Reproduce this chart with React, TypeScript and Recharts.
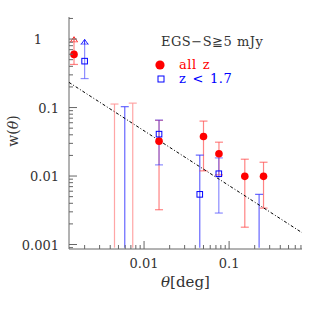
import React from 'react';
import { ScatterChart, Scatter, XAxis, YAxis, ErrorBar, Label } from 'recharts';

// all z
const thetaAll = [0.0015, 0.015, 0.05, 0.076, 0.153, 0.254];
const wAll = [0.597, 0.0323, 0.0378, 0.0211, 0.0099, 0.0099];
const wAllHi = [0.913, 0.065, 0.0634, 0.0312, 0.0176, 0.0159];
const wAllLo = [0.426, 0.00322, 0.0119, 0.0104, 0.00179, 0.0034];

// all z bins where w < 0: only the top of the bar is in the plot
const thetaAllNeg = [0.00449, 0.00736];
const wAllNegHi = [0.1125, 0.116];

// z < 1.7 (lo = 0 means the bar runs off the bottom)
const thetaLow = [0.002, 0.015, 0.0452, 0.0757];
const wLow = [0.476, 0.0409, 0.0054, 0.0108];
const wLowHi = [0.845, 0.0656, 0.0202, 0.0184];
const wLowLo = [0.265, 0.01455, 0, 0.00288];

const thetaLowNeg = [0.00593, 0.2254];
const wLowNegHi = [0.103, 0.0054];

// first bin is a lower limit
const arrowAll = 1.08;
const arrowLow = 0.99;

// power law fit
const fitTheta = [0.00131, 0.72];
const fitW = [0.233, 0.00149];

const X_DOMAIN = [0.00131, 0.72];
const Y_DOMAIN = [0.00086, 2.1];
const FLOOR = 0.0009; // where bars running off the bottom stop

const xTicks = [
  0.002, 0.003, 0.004, 0.005, 0.006, 0.007, 0.008, 0.009,
  0.01, 0.02, 0.03, 0.04, 0.05, 0.06, 0.07, 0.08, 0.09,
  0.1, 0.2, 0.3, 0.4, 0.5, 0.6, 0.7,
];
const yTicks = [
  0.0009, 0.001, 0.002, 0.003, 0.004, 0.005, 0.006, 0.007, 0.008, 0.009,
  0.01, 0.02, 0.03, 0.04, 0.05, 0.06, 0.07, 0.08, 0.09,
  0.1, 0.2, 0.3, 0.4, 0.5, 0.6, 0.7, 0.8, 0.9, 1, 2,
];
const xMajor = [0.01, 0.1];
const xMajorLabels = ['0.01', '0.1'];
const yMajor = [0.001, 0.01, 0.1, 1];
const yMajorLabels = ['0.001', '0.01', '0.1', '1'];

const AXIS = '#666';
const TEXT = '#333';
const FONT = '"DejaVu Serif", "Liberation Serif", serif';

const RED_BAR = '#ff4040';
const PINK_BAR = '#ff9090';
const BLUE_BAR = '#4040ff';

const allData = thetaAll.map((x, i) => ({ x, y: wAll[i], err: [wAll[i] - wAllLo[i], wAllHi[i] - wAll[i]] }));
const lowData = thetaLow.map((x, i) => ({
  x,
  y: wLow[i],
  err: wLowLo[i] > 0 ? [wLow[i] - wLowLo[i], wLowHi[i] - wLow[i]] : null,
}));
// bars that fall off the bottom: no lower cap, top cap drawn as the marker
const allFloorData = thetaAllNeg.map((x, i) => ({ x, y: wAllNegHi[i], err: [wAllNegHi[i] - FLOOR, 0] }));
const lowFloorData = [
  ...thetaLowNeg.map((x, i) => ({ x, y: wLowNegHi[i], err: [wLowNegHi[i] - FLOOR, 0] })),
  ...thetaLow
    .map((x, i) => ({ x, y: wLowHi[i], lo: wLowLo[i] }))
    .filter((d) => d.lo === 0)
    .map((d) => ({ x: d.x, y: d.y, err: [d.y - FLOOR, 0] })),
];
const arrowAllData = [{ x: thetaAll[0], y: arrowAll }];
const arrowLowData = [{ x: thetaLow[0], y: arrowLow }];
const fitData = fitTheta.map((x, i) => ({ x, y: fitW[i] }));

const idx = (arr: number[], v: number) => arr.findIndex((m) => Math.abs(m - v) < 1e-9);

const XTickBottom = (p: any) => {
  const i = idx(xMajor, p.payload.value);
  return (
    <g>
      <line x1={p.x} x2={p.x} y1={p.y} y2={p.y - (i >= 0 ? 8 : 4)} stroke={AXIS} />
      {i >= 0 && (
        <text x={p.x} y={p.y + 19} textAnchor="middle" fontSize={13} fontFamily={FONT} fill={TEXT}>
          {xMajorLabels[i]}
        </text>
      )}
    </g>
  );
};

const XTickTop = (p: any) => {
  const i = idx(xMajor, p.payload.value);
  return <line x1={p.x} x2={p.x} y1={p.y} y2={p.y + (i >= 0 ? 8 : 4)} stroke={AXIS} />;
};

const YTickLeft = (p: any) => {
  const i = idx(yMajor, p.payload.value);
  const label = i >= 0 ? yMajorLabels[i] : '';
  return (
    <g>
      <line x1={p.x} x2={p.x + (i >= 0 ? 8 : 4)} y1={p.y} y2={p.y} stroke={AXIS} />
      {i >= 0 && (
        <text
          x={label === '1' ? p.x - 27 : p.x - 10}
          y={p.y + 5}
          textAnchor="end"
          fontSize={13}
          fontFamily={FONT}
          fill={TEXT}
        >
          {label}
        </text>
      )}
    </g>
  );
};

const YTickRight = (p: any) => {
  const i = idx(yMajor, p.payload.value);
  return <line x1={p.x} x2={p.x - (i >= 0 ? 8 : 4)} y1={p.y} y2={p.y} stroke={AXIS} />;
};

const redDot = (p: any) => <circle cx={p.cx} cy={p.cy} r={3.8} fill="#ff0000" />;
const blueSquare = (p: any) => (
  <rect x={p.cx - 2.8} y={p.cy - 2.8} width={5.6} height={5.6} fill="none" stroke="#0000ff" strokeWidth={1} />
);
const nothing = () => <g />;
const cap = (color: string, opacity: number) => (p: any) => (
  <line x1={p.cx - 4} x2={p.cx + 4} y1={p.cy} y2={p.cy} stroke={color} strokeOpacity={opacity} strokeWidth={1.2} />
);
const arrow = (color: string) => (p: any) => (
  <g stroke={color} fill="none" strokeWidth={1}>
    <line x1={p.cx} x2={p.cx} y1={p.cy} y2={p.cy + 5} />
    <polyline points={`${p.cx - 3.5},${p.cy + 5} ${p.cx},${p.cy} ${p.cx + 3.5},${p.cy + 5}`} />
  </g>
);

export default function App() {
  return (
    <div style={{ position: 'absolute', left: 0, top: 0, width: 319, height: 319, background: '#fff' }}>
      <ScatterChart width={319} height={319} margin={{ top: 17, right: 17, bottom: 30, left: 9 }}>
        <XAxis
          type="number"
          dataKey="x"
          scale="log"
          domain={X_DOMAIN}
          allowDataOverflow
          ticks={xTicks}
          interval={0}
          tickSize={0}
          tickMargin={0}
          tick={XTickBottom}
          height={40}
          stroke={AXIS}
        >
          <Label
            content={(props: any) => {
              const vb = props.viewBox;
              return (
                <text x={vb.x + vb.width / 2} y={vb.y + 38} textAnchor="middle" fontSize={15} fontFamily={FONT} fill={TEXT}>
                  <tspan fontStyle="italic">θ</tspan>
                  <tspan>[deg]</tspan>
                </text>
              );
            }}
          />
        </XAxis>
        <XAxis
          xAxisId="top"
          orientation="top"
          type="number"
          dataKey="x"
          scale="log"
          domain={X_DOMAIN}
          allowDataOverflow
          ticks={xTicks}
          interval={0}
          tickSize={0}
          tickMargin={0}
          tick={XTickTop}
          height={0}
          stroke={AXIS}
        />
        <YAxis
          type="number"
          dataKey="y"
          scale="log"
          domain={Y_DOMAIN}
          allowDataOverflow
          ticks={yTicks}
          interval={0}
          tickSize={0}
          tickMargin={0}
          tick={YTickLeft}
          width={60}
          stroke={AXIS}
        >
          <Label
            content={(props: any) => {
              const vb = props.viewBox;
              const cx = 13;
              const cy = vb.y + vb.height / 2 - 2;
              return (
                <text
                  x={cx}
                  y={cy}
                  transform={`rotate(-90 ${cx} ${cy})`}
                  textAnchor="middle"
                  dominantBaseline="central"
                  fontSize={14}
                  fontFamily={FONT}
                  fill={TEXT}
                >
                  <tspan>w(</tspan>
                  <tspan fontStyle="italic">θ</tspan>
                  <tspan>)</tspan>
                </text>
              );
            }}
          />
        </YAxis>
        <YAxis
          yAxisId="right"
          orientation="right"
          type="number"
          dataKey="y"
          scale="log"
          domain={Y_DOMAIN}
          allowDataOverflow
          ticks={yTicks}
          interval={0}
          tickSize={0}
          tickMargin={0}
          tick={YTickRight}
          width={0}
          stroke={AXIS}
        />

        <Scatter
          data={fitData}
          line={{ stroke: '#000', strokeWidth: 1, strokeDasharray: '3 2 1 2' }}
          shape={nothing}
          isAnimationActive={false}
        />

        <Scatter data={allFloorData} shape={cap(PINK_BAR, 0.8)} isAnimationActive={false}>
          <ErrorBar dataKey="err" direction="y" width={0} stroke={PINK_BAR} strokeOpacity={0.8} strokeWidth={1.2} />
        </Scatter>
        <Scatter data={lowFloorData} shape={cap(BLUE_BAR, 0.8)} isAnimationActive={false}>
          <ErrorBar dataKey="err" direction="y" width={0} stroke={BLUE_BAR} strokeOpacity={0.8} strokeWidth={1.2} />
        </Scatter>

        <Scatter data={allData} shape={redDot} isAnimationActive={false}>
          <ErrorBar dataKey="err" direction="y" width={4} stroke={RED_BAR} strokeOpacity={0.65} strokeWidth={1.2} />
        </Scatter>
        <Scatter data={lowData} shape={blueSquare} isAnimationActive={false}>
          <ErrorBar dataKey="err" direction="y" width={4} stroke={BLUE_BAR} strokeOpacity={0.6} strokeWidth={1.2} />
        </Scatter>

        <Scatter data={arrowAllData} shape={arrow('#ff3030')} isAnimationActive={false} />
        <Scatter data={arrowLowData} shape={arrow('#2020ff')} isAnimationActive={false} />
      </ScatterChart>

      <div
        style={{
          position: 'absolute',
          left: 161,
          top: 34,
          fontFamily: FONT,
          fontSize: 13,
          letterSpacing: 0.5,
          color: TEXT,
          whiteSpace: 'nowrap',
        }}
      >
        EGS−S≧5 mJy
      </div>
      <div
        style={{
          position: 'absolute',
          left: 155,
          top: 58,
          fontFamily: FONT,
          fontSize: 13,
          lineHeight: '14px',
          letterSpacing: 0.5,
          wordSpacing: 1.5,
          whiteSpace: 'nowrap',
        }}
      >
        <div style={{ display: 'flex', alignItems: 'center', color: '#ff0000' }}>
          <svg width={24} height={14}>
            <circle cx={5} cy={7} r={4.6} fill="#ff0000" />
          </svg>
          <span>all z</span>
        </div>
        <div style={{ display: 'flex', alignItems: 'center', color: '#0000ff' }}>
          <svg width={24} height={14}>
            <rect x={3} y={4} width={6} height={6} fill="none" stroke="#0000ff" />
          </svg>
          <span>z &lt; 1.7</span>
        </div>
      </div>
    </div>
  );
}
